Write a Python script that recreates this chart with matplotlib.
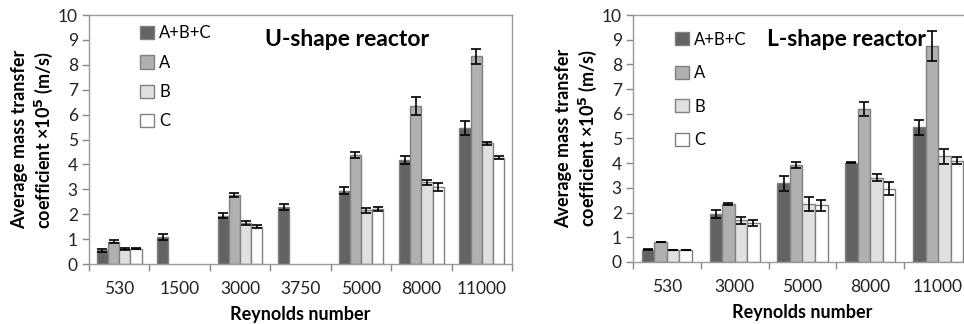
import numpy as np
import matplotlib
matplotlib.use("Agg")
import matplotlib.pyplot as plt

plt.rcParams['font.family'] = ['Lato', 'DejaVu Sans']

series = ['A+B+C', 'A', 'B', 'C']
colors = ['#636363', '#b0b0b0', '#e0e0e0', '#ffffff']

# U-shape reactor
u_re = ['530', '1500', '3000', '3750', '5000', '8000', '11000']
u_abc = [0.55, 1.10, 1.95, 2.30, 2.95, 4.17, 5.45]
u_a = [0.90, np.nan, 2.78, np.nan, 4.38, 6.35, 8.35]
u_b = [0.60, np.nan, 1.65, np.nan, 2.17, 3.28, 4.85]
u_c = [0.62, np.nan, 1.50, np.nan, 2.20, 3.10, 4.27]
u_abc_err = [0.05, 0.12, 0.10, 0.13, 0.13, 0.16, 0.28]
u_a_err = [0.05, np.nan, 0.08, np.nan, 0.12, 0.35, 0.30]
u_b_err = [0.05, np.nan, 0.08, np.nan, 0.10, 0.10, 0.07]
u_c_err = [0.03, np.nan, 0.05, np.nan, 0.08, 0.15, 0.06]

# L-shape reactor
l_re = ['530', '3000', '5000', '8000', '11000']
l_abc = [0.50, 1.95, 3.18, 4.02, 5.45]
l_a = [0.82, 2.35, 3.92, 6.18, 8.75]
l_b = [0.47, 1.68, 2.35, 3.42, 4.28]
l_c = [0.48, 1.57, 2.30, 2.97, 4.10]
l_abc_err = [0.03, 0.15, 0.32, 0.03, 0.30]
l_a_err = [0.0, 0.05, 0.13, 0.28, 0.60]
l_b_err = [0.0, 0.13, 0.30, 0.15, 0.30]
l_c_err = [0.0, 0.12, 0.22, 0.25, 0.15]


def draw(ax, cats, vals, errs, title, title_x, leg_anchor, leg_space):
    n = len(cats)
    x = np.arange(n)
    w = 0.185
    for i, (v, e) in enumerate(zip(vals, errs)):
        pos = x + (i - 1.5) * w
        ax.bar(pos, v, w, color=colors[i], edgecolor='#808080', linewidth=1.0,
               label=series[i], zorder=2)
        ax.errorbar(pos, v, yerr=e, fmt='none', ecolor='black', elinewidth=1.2,
                    capsize=3.5, capthick=1.2, zorder=3)
    ax.set_xlim(-0.5, n - 0.5)
    ax.set_ylim(0, 10)
    ax.set_yticks(range(11))
    ax.set_xticks(x)
    ax.set_xticklabels(cats)
    ax.set_xticks(np.arange(n + 1) - 0.5, minor=True)
    ax.tick_params(axis='x', which='major', length=0, pad=12, labelsize=12.5, labelcolor='#222222')
    ax.tick_params(axis='x', which='minor', length=5, color='#888888', width=1)
    ax.tick_params(axis='y', length=5, color='#888888', width=1, labelsize=12.5,
                   labelcolor='#222222', pad=3)
    for s in ax.spines.values():
        s.set_color('#999999')
        s.set_linewidth(1.0)
    ax.set_xlabel('Reynolds number', fontsize=13, fontweight='bold', labelpad=7)
    ax.set_ylabel('Average mass transfer\ncoefficient ×10$^{\\mathbf{5}}$ (m/s)',
                  fontsize=13, fontweight='bold', labelpad=2, linespacing=1.3)
    ax.text(title_x, 0.9, title, transform=ax.transAxes, fontsize=16.5,
            fontweight='bold', ha='center', va='center')
    ax.legend(loc='upper left', bbox_to_anchor=leg_anchor, frameon=False,
              fontsize=12, handlelength=0.85, handleheight=0.85,
              labelspacing=leg_space, handletextpad=0.3, borderaxespad=0)


fig = plt.figure(figsize=(9.64, 3.24), dpi=100)
ax1 = fig.add_axes([0.0923, 0.185, 0.4388, 0.7685])
ax2 = fig.add_axes([0.6566, 0.1914, 0.3517, 0.7623])

draw(ax1, u_re, [u_abc, u_a, u_b, u_c], [u_abc_err, u_a_err, u_b_err, u_c_err],
     'U-shape reactor', 0.61, (0.105, 0.985), 0.8)
draw(ax2, l_re, [l_abc, l_a, l_b, l_c], [l_abc_err, l_a_err, l_b_err, l_c_err],
     'L-shape reactor', 0.63, (0.105, 0.96), 1.05)

fig.savefig('out.png', dpi=100)
